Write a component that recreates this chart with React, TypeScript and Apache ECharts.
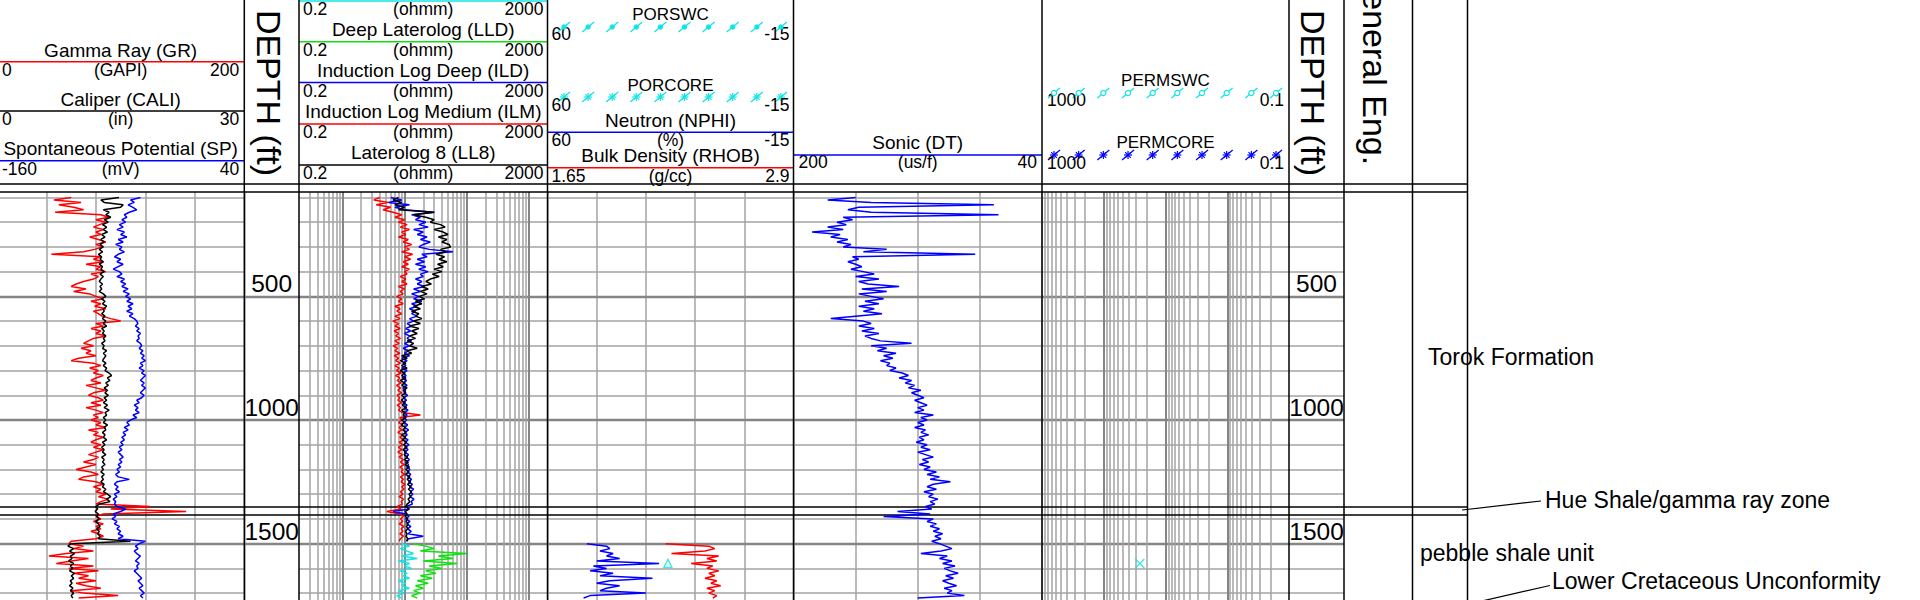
import React, { useEffect, useRef } from "react";
import * as echarts from "echarts";

// ---------------- data ----------------
const DEPTH_MIN = 78;
const DEPTH_MAX = 1740;
const LOG_START = 100; // ft, first sample of the main logs
const LOG_STEP = 10; // ft between samples
const LOWER_START = 1500; // first sample of the lower (new hole) logs

const DEPTH_GRID = [100, 200, 300, 400, 500, 600, 700, 800, 900, 1000, 1100, 1200, 1300, 1400, 1500, 1600, 1700];
const DEPTH_MAJOR = [500, 1000, 1500];
const DEPTH_LABELS = [500, 1000, 1500];
const FORMATION_LINES = [1351, 1384];

const RES_MINOR = [0.3, 0.4, 0.5, 0.6, 0.7, 0.8, 0.9, 2, 3, 4, 5, 6, 7, 8, 9, 20, 30, 40, 50, 60, 70, 80, 90, 200, 300, 400, 500, 600, 700, 800, 900];
const RES_MAJOR = [1, 10, 100, 1000];
const PERM_MINOR = [0.2, 0.3, 0.4, 0.5, 0.6, 0.7, 0.8, 0.9, 2, 3, 4, 5, 6, 7, 8, 9, 20, 30, 40, 50, 60, 70, 80, 90, 200, 300, 400, 500, 600, 700, 800, 900];
const PERM_MAJOR = [1, 10, 100];

// Gamma Ray (GAPI), 100..1720 ft
const GR = [
  60, 46, 68, 50, 62, 70, 47, 84, 90, 80,
  88, 83, 78, 86, 80, 84, 75, 82, 88, 80,
  85, 79, 70, 44, 84, 78, 86, 72, 84, 80,
  88, 76, 82, 78, 70, 64, 60, 72, 62, 75,
  80, 86, 76, 84, 79, 88, 78, 82, 85, 92,
  100, 80, 86, 76, 84, 80, 88, 78, 74, 70,
  78, 68, 76, 72, 80, 66, 60, 78, 84, 75,
  82, 78, 86, 80, 76, 84, 72, 80, 88, 78,
  74, 82, 86, 76, 84, 72, 80, 86, 78, 82,
  76, 84, 80, 88, 74, 82, 78, 86, 80, 76,
  84, 78, 86, 80, 74, 82, 78, 70, 80, 72,
  64, 76, 82, 70, 66, 80, 86, 78, 84, 80,
  88, 82, 90, 84, 80, 124, 92, 153, 86, 80,
  84, 78, 86, 80, 84, 76, 82, 86, 80, 60,
  58, 70, 62, 78, 56, 42, 74, 60, 48, 78,
  58, 82, 62, 74, 66, 80, 64, 72, 84, 60,
  70, 98, 66,
];
// Caliper (in)
const CALI = [
  14.8, 12.6, 13.0, 15.3, 15.0, 12.9, 13.6, 13.2, 13.8, 13.0,
  13.5, 12.8, 13.3, 12.9, 13.4, 12.7, 13.1, 12.6, 13.0, 12.5,
  12.9, 12.4, 12.8, 12.3, 12.7, 12.5, 12.9, 12.4, 12.8, 12.6,
  13.0, 12.5, 12.9, 12.6, 12.4, 12.8, 12.5, 12.7, 12.4, 12.9,
  13.2, 12.7, 13.1, 12.8, 13.3, 12.9, 13.0, 12.7, 13.1, 12.8,
  13.2, 12.9, 13.3, 12.7, 13.0, 12.8, 13.2, 12.9, 13.1, 12.7,
  13.0, 12.8, 13.3, 12.9, 13.2, 13.0, 12.8, 13.2, 12.9, 13.3,
  13.1, 13.6, 13.9, 13.4, 13.7, 13.2, 13.5, 13.0, 13.4, 13.1,
  13.5, 13.0, 13.3, 12.9, 13.4, 13.0, 13.6, 13.1, 13.3, 12.9,
  13.2, 12.9, 13.4, 13.0, 13.2, 12.8, 13.1, 12.9, 13.3, 12.8,
  13.1, 12.7, 13.0, 12.8, 13.2, 12.7, 13.0, 12.8, 13.1, 12.7,
  12.9, 12.6, 13.0, 12.7, 12.9, 12.6, 13.0, 12.8, 13.2, 12.9,
  13.4, 13.8, 13.3, 13.7, 12.4, 12.0, 12.2, 11.9, 12.3, 12.1,
  12.4, 12.0, 12.3, 12.5, 12.1, 12.4, 12.2, 12.5, 12.3, 16.2,
  9.0, 8.6, 9.3, 8.8, 9.4, 8.9, 9.1, 8.7, 9.3, 8.9,
  9.2, 8.8, 9.4, 9.0, 9.3, 8.9, 9.1, 8.8, 9.2, 8.9,
  9.3, 9.0, 9.2,
];
// Spontaneous Potential (mV)
const SP = [
  -44, -52, -49, -54, -50, -47, -53, -57, -55, -59,
  -56, -61, -58, -63, -57, -60, -55, -62, -58, -64,
  -59, -61, -57, -62, -65, -60, -63, -58, -62, -66,
  -61, -59, -63, -57, -60, -56, -59, -54, -58, -53,
  -56, -52, -55, -50, -54, -51, -55, -50, -53, -49,
  -47, -46, -48, -45, -47, -44, -46, -45, -47, -44,
  -43, -45, -42, -44, -41, -43, -40, -44, -42, -45,
  -41, -43, -40, -42, -44, -41, -43, -40, -42, -44,
  -41, -43, -47, -45, -49, -46, -48, -45, -50, -47,
  -52, -55, -53, -57, -54, -58, -56, -59, -57, -60,
  -58, -61, -59, -62, -60, -58, -61, -59, -62, -60,
  -63, -61, -64, -62, -53, -63, -65, -62, -64, -61,
  -65, -63, -66, -64, -65, -63, -56, -60, -66, -64,
  -67, -63, -65, -61, -63, -60, -62, -58, -62, -40,
  -45, -48, -46, -49, -47, -44, -46, -48, -45, -47,
  -46, -49, -47, -45, -43, -46, -44, -42, -45, -43,
  -41, -44, -42,
];
// Laterolog 8 (ohmm), 100..1490 ft
const LL8 = [
  8, 6.5, 9, 7, 10, 8, 30, 14, 22, 30,
  26, 38, 45, 30, 42, 50, 35, 48, 40, 52,
  55, 38, 47, 32, 44, 36, 48, 34, 42, 30,
  40, 28, 36, 26, 22, 27, 19, 24, 18, 23,
  17, 21, 15, 19, 14, 18, 13, 17, 15, 19,
  14, 18, 12, 17, 13, 16, 12, 15, 11, 14,
  12, 16, 11, 13, 9, 11, 8.5, 10.5, 9, 11,
  8.5, 10, 9, 10.5, 8.5, 10, 9, 11, 9.5, 10.5,
  9, 10, 8.8, 10.2, 9.2, 10.8, 9, 10, 9.5, 10.5,
  9, 10, 8.8, 10.2, 9.4, 10.6, 9, 10.4, 9.2, 10.8,
  9.6, 11, 9.4, 10.6, 9.8, 11.2, 10, 11.5, 10.2, 12,
  10.5, 11.8, 10.4, 12.2, 11, 12.5, 11.2, 12.8, 11.5, 13,
  11.8, 12.6, 11.4, 12.2, 11, 10.5, 11.8, 10.2, 11, 10.4,
  11.2, 10.6, 11.4, 10.8, 11.2, 10.4, 11, 10.6, 11.2, 10.8,
];
// Induction Log Medium (ohmm)
const ILM = [
  4, 3.2, 5.5, 3.5, 6, 4.5, 6.5, 9, 7, 10,
  8, 11, 8.5, 12, 9, 10.5, 8, 11.5, 9.5, 13,
  10, 12, 9, 13.5, 10, 12.5, 9.5, 11.5, 9, 12,
  10, 11, 8.5, 10.5, 9, 11, 8, 10, 8.5, 9.5,
  7.5, 9, 8, 9.5, 7, 8.5, 7.5, 9, 7, 8.5,
  6.5, 8, 7, 8.5, 6.8, 8, 7.2, 8.6, 7, 8.2,
  6.6, 7.8, 7, 8.4, 6.8, 8, 7.2, 8.6, 7, 8.2,
  7.4, 8.8, 7.2, 8.4, 7.6, 8.8, 7.4, 8.6, 7.8, 9,
  7.6, 8.4, 7.8, 9, 7.6, 8.6, 8, 9.2, 18, 8.4,
  9, 8, 9.4, 8.2, 9, 7.8, 9.2, 8.4, 9.6, 8.2,
  9.4, 8, 9, 7.8, 9.2, 8.2, 9.6, 8.6, 9.8, 8.4,
  9.4, 8.8, 10, 8.6, 9.6, 8.8, 10.2, 9, 9.8, 8.6,
  9.4, 8.2, 9.6, 8.8, 9.2, 7.5, 8.8, 5.2, 8.4, 9.6,
  8.6, 9.4, 8.2, 9.8, 8.8, 9.4, 8.4, 9.6, 8.6, 8.2,
];
// Induction Log Deep (ohmm)
const ILD = [
  6, 9, 5.5, 12, 7, 10, 30, 13, 18, 15,
  22, 17, 24, 14, 20, 16, 23, 18, 26, 20,
  17, 25, 60, 19, 23, 16, 21, 15, 22, 17,
  24, 18, 20, 15, 19, 16, 21, 14, 18, 13,
  17, 14, 19, 13, 16, 12, 15, 13, 16, 12,
  14, 11, 13, 10.5, 12.5, 10, 12, 11, 13, 10,
  12, 9.5, 11.5, 10, 12, 9, 11, 9.5, 10.5, 9,
  11, 9.4, 10.6, 9.2, 10.8, 9.6, 11, 9.4, 10.4, 9.8,
  11.2, 9.6, 10.8, 9.4, 11, 9.8, 11.4, 10, 11, 9.6,
  10.8, 9.8, 11.2, 10, 11.6, 10.2, 11, 9.8, 11.4, 10.4,
  11.8, 10.2, 11.4, 10, 11.6, 10.6, 12, 10.4, 11.6, 10.8,
  12.2, 11, 12.6, 11.2, 13, 11.6, 13.4, 12, 14, 12.4,
  13.6, 12.2, 14.2, 12.8, 13.4, 10.5, 12, 6.5, 10.6, 11.8,
  10.4, 12.2, 10.8, 12.6, 11.2, 12.8, 11.4, 20, 11.6, 10.8,
];
// Deep Laterolog (ohmm), 1500..1720 ft
const LLD = [14, 22, 30, 18, 100, 35, 60, 20, 70, 25, 40, 22, 32, 18, 28, 16, 24, 15, 20, 14, 18, 13, 16];
// shallow resistivity (cyan curve, title above the picture), 1500..1720 ft
const RSHAL = [9, 12, 8.5, 11, 14, 9, 16, 8, 12, 10, 13, 8.5, 11, 9.5, 12, 8, 10.5, 9, 12, 8, 10, 7.5, 9];
// Sonic (us/f), 100..1720 ft
const DT = [
  160, 178, 150, 71, 158, 165, 150, 68, 168, 162,
  172, 166, 178, 168, 188, 170, 176, 165, 172, 163,
  168, 140, 155, 83, 162, 158, 165, 160, 156, 163,
  155, 148, 160, 145, 158, 152, 132, 156, 140, 158,
  150, 142, 154, 145, 158, 148, 155, 143, 160, 176,
  155, 150, 158, 148, 156, 145, 154, 150, 144, 124,
  150, 140, 146, 134, 142, 136, 144, 138, 140, 134,
  138, 130, 126, 132, 124, 128, 122, 126, 118, 124,
  120, 116, 122, 118, 114, 120, 116, 122, 110, 118,
  114, 120, 116, 122, 115, 118, 113, 119, 116, 121,
  114, 118, 112, 120, 115, 110, 117, 113, 119, 112,
  116, 108, 114, 106, 112, 99, 110, 114, 108, 116,
  110, 113, 107, 112, 109, 115, 111, 133, 112, 142,
  110, 114, 108, 112, 106, 110, 104, 109, 105, 111,
  106, 102, 98, 105, 118, 101, 106, 98, 104, 96,
  103, 99, 94, 102, 97, 104, 100, 95, 103, 98,
  101, 90, 120,
];
// Neutron (%), Bulk Density (g/cc), 1500..1720 ft
const NPHI = [48, 42, 41, 44, 40, 42, 38, 45, 26, 46, 42, 47, 40, 44, 28, 41, 45, 38, 42, 44, 30, 47, 49];
const RHOB = [2.25, 2.47, 2.5, 2.45, 2.28, 2.52, 2.46, 2.51, 2.38, 2.49, 2.46, 2.52, 2.47, 2.5, 2.45, 2.51, 2.48, 2.53, 2.46, 2.5, 2.47, 2.51, 2.49];
// core / sidewall samples: [value, depth]
const PORSWC = [[23.3, 1580]];
const PERMSWC = [[26, 1580]];

// ---------------- layout ----------------
const FONT = '"Liberation Sans", Arial, Helvetica, sans-serif';
const TOP = 192;
const PX_PER_FT = 0.2473;
const GRID_H = (DEPTH_MAX - DEPTH_MIN) * PX_PER_FT;
const T1 = { l: -3, r: 244.3 };
const D1 = { l: 244.3, r: 299 };
const T2 = { l: 299, r: 547.5 };
const T3 = { l: 547.5, r: 793.5 };
const T4 = { l: 793.5, r: 1042 };
const T5 = { l: 1042, r: 1289 };
const D2 = { l: 1289, r: 1344 };
const GE = { l: 1344, r: 1412.5 };
const LC = { l: 1412.5, r: 1467.5 };

const RED = "#ff0000";
const BLUE = "#0000ff";
const GREEN = "#10e010";
const CYAN = "#12e4e4";
const GRID_C = "#a3a3a3";
const GRID_MAJOR_C = "#858585";

const toPts = (vals: number[], start: number, step: number) => vals.map((v, i) => [v, start + i * step]);

const gridOf = (t: { l: number; r: number }) => ({
  left: t.l,
  top: TOP,
  width: t.r - t.l,
  height: GRID_H,
  containLabel: false,
  outerBoundsMode: "none",
});

const depthAxis = (gi: number, labelMargin: number | null = null) => ({
  gridIndex: gi,
  type: "value",
  inverse: true,
  min: DEPTH_MIN,
  max: DEPTH_MAX,
  show: labelMargin != null,
  position: "right",
  axisLine: { show: false },
  axisTick: { show: false },
  splitLine: { show: false },
  axisLabel:
    labelMargin != null
      ? {
          show: true,
          inside: true,
          customValues: DEPTH_LABELS,
          formatter: (v: number) => String(v),
          fontSize: 24.5,
          color: "#000",
          fontFamily: FONT,
          margin: labelMargin,
          align: "center",
          verticalAlign: "bottom",
        }
      : { show: false },
});

const linX = (gi: number, min: number, max: number, inverse = false, interval?: number) => ({
  gridIndex: gi,
  type: "value",
  min,
  max,
  inverse,
  show: interval != null,
  interval,
  axisLine: { show: false },
  axisTick: { show: false },
  axisLabel: { show: false },
  splitLine: { show: interval != null, lineStyle: { color: GRID_C, width: 1.5 } },
});

const logX = (gi: number, min: number, max: number, inverse = false) => ({
  gridIndex: gi,
  type: "log",
  logBase: 10,
  min,
  max,
  inverse,
  show: false,
});

const MINOR_STYLE = { color: GRID_C, width: 1.5, type: "solid" };
const MAJOR_STYLE = { color: GRID_MAJOR_C, width: 2.4, type: "solid" };

const markLineBase = (data: any[]) => ({
  silent: true,
  symbol: ["none", "none"],
  z: 1,
  animation: false,
  label: { show: false },
  emphasis: { disabled: true },
  lineStyle: { type: "solid" },
  data,
});

const hLines = (gi: number, majorOnly = false) => ({
  type: "line",
  xAxisIndex: gi,
  yAxisIndex: gi,
  data: [],
  silent: true,
  z: 1,
  markLine: markLineBase(
    DEPTH_GRID.filter((d) => !majorOnly || DEPTH_MAJOR.includes(d)).map((d) => ({
      yAxis: d,
      lineStyle: DEPTH_MAJOR.includes(d) ? MAJOR_STYLE : MINOR_STYLE,
    }))
  ),
});

const vLogLines = (gi: number, minor: number[], major: number[]) => ({
  type: "line",
  xAxisIndex: gi,
  yAxisIndex: gi,
  data: [],
  silent: true,
  z: 1,
  markLine: markLineBase([
    ...minor.map((v) => ({ xAxis: v, lineStyle: MINOR_STYLE })),
    ...major.map((v) => ({ xAxis: v, lineStyle: { ...MAJOR_STYLE, width: 2 } })),
  ]),
});

const curve = (name: string, gi: number, data: number[][], color: string, width = 1.5) => ({
  name,
  type: "line",
  xAxisIndex: gi,
  yAxisIndex: gi,
  data,
  showSymbol: false,
  symbol: "none",
  silent: true,
  z: 3,
  lineStyle: { color, width },
  itemStyle: { color },
});

// ---------------- header graphics ----------------
const txt = (text: string, x: number, y: number, size: number, align = "center", extra: any = {}) => ({
  type: "text",
  x,
  y,
  z: 50,
  silent: true,
  ...extra,
  style: {
    text,
    x: 0,
    y: 0,
    fill: "#000",
    fontSize: size,
    fontFamily: FONT,
    textAlign: align,
    align,
    textVerticalAlign: "middle",
    verticalAlign: "middle",
  },
});

const ln = (x1: number, y1: number, x2: number, y2: number, stroke = "#000", lineWidth = 1.5) => ({
  type: "line",
  z: 50,
  silent: true,
  shape: { x1, y1, x2, y2 },
  style: { stroke, lineWidth },
});

const scaleRow = (t: { l: number; r: number }, y: number, a: string, unit: string, b: string, pad = 4) => [
  txt(a, t.l + pad, y, 17.5, "left"),
  txt(unit, (t.l + t.r) / 2, y, 17.5, "center"),
  txt(b, t.r - pad, y, 17.5, "right"),
];

const legendRow = (kind: string, x0: number, step: number, cy: number, color: string) => {
  const els: any[] = [];
  for (let i = 0; i < 10; i++) {
    const cx = x0 + i * step;
    els.push(ln(cx - 6, cy + 5, cx + 6, cy - 5, color, 1.3));
    if (kind === "dot") els.push({ type: "circle", z: 51, shape: { cx, cy, r: 2.7 }, style: { fill: color } });
    if (kind === "ring")
      els.push({ type: "circle", z: 51, shape: { cx, cy, r: 2.6 }, style: { fill: "#fff", stroke: color, lineWidth: 1.2 } });
    if (kind === "star") {
      [0, 45, 90, 135].forEach((a) => {
        const r = (a * Math.PI) / 180;
        els.push(ln(cx - 4 * Math.cos(r), cy - 4 * Math.sin(r), cx + 4 * Math.cos(r), cy + 4 * Math.sin(r), color, 1.2));
      });
    }
  }
  return els;
};

function buildGraphic() {
  const g: any[] = [];
  // track 1 header
  const c1 = (T1.l + T1.r) / 2;
  g.push(txt("Gamma Ray (GR)", c1, 50, 19));
  g.push(ln(T1.l, 61.7, T1.r, 61.7, RED));
  g.push(...scaleRow(T1, 69.5, "0", "(GAPI)", "200", 5));
  g.push(txt("Caliper (CALI)", c1, 99, 19));
  g.push(ln(T1.l, 111, T1.r, 111, "#000"));
  g.push(...scaleRow(T1, 118.5, "0", "(in)", "30", 5));
  g.push(txt("Spontaneous Potential (SP)", c1, 148.5, 19));
  g.push(ln(T1.l, 160.7, T1.r, 160.7, BLUE));
  g.push(...scaleRow(T1, 168.5, "-160", "(mV)", "40", 5));

  // resistivity header
  const c2 = (T2.l + T2.r) / 2;
  g.push(ln(T2.l, 1, T2.r, 1, CYAN));
  g.push(...scaleRow(T2, 9, "0.2", "(ohmm)", "2000"));
  g.push(txt("Deep Laterolog (LLD)", c2, 29, 19));
  g.push(ln(T2.l, 41.7, T2.r, 41.7, GREEN));
  g.push(...scaleRow(T2, 49.5, "0.2", "(ohmm)", "2000"));
  g.push(txt("Induction Log Deep (ILD)", c2, 70.3, 19));
  g.push(ln(T2.l, 82.5, T2.r, 82.5, BLUE));
  g.push(...scaleRow(T2, 91, "0.2", "(ohmm)", "2000"));
  g.push(txt("Induction Log Medium (ILM)", c2, 111.3, 19));
  g.push(ln(T2.l, 124, T2.r, 124, RED));
  g.push(...scaleRow(T2, 132, "0.2", "(ohmm)", "2000"));
  g.push(txt("Laterolog 8 (LL8)", c2, 152.5, 19));
  g.push(ln(T2.l, 165, T2.r, 165, "#000"));
  g.push(...scaleRow(T2, 173, "0.2", "(ohmm)", "2000"));

  // porosity header
  const c3 = (T3.l + T3.r) / 2;
  g.push(txt("PORSWC", c3, 14, 17));
  g.push(...legendRow("dot", T3.l + 16.5, 24.1, 27, CYAN));
  g.push(txt("60", T3.l + 4, 33.5, 17.5, "left"));
  g.push(txt("-15", T3.r - 4, 33.5, 17.5, "right"));
  g.push(txt("PORCORE", c3, 85, 17));
  g.push(...legendRow("star", T3.l + 16.5, 24.1, 97, CYAN));
  g.push(txt("60", T3.l + 4, 105, 17.5, "left"));
  g.push(txt("-15", T3.r - 4, 105, 17.5, "right"));
  g.push(txt("Neutron (NPHI)", c3, 120, 19));
  g.push(ln(T3.l, 132.3, T3.r, 132.3, BLUE));
  g.push(...scaleRow(T3, 140, "60", "(%)", "-15"));
  g.push(txt("Bulk Density (RHOB)", c3, 155.5, 19));
  g.push(ln(T3.l, 167.7, T3.r, 167.7, RED));
  g.push(...scaleRow(T3, 175.5, "1.65", "(g/cc)", "2.9"));

  // sonic header
  const c4 = (T4.l + T4.r) / 2;
  g.push(txt("Sonic (DT)", c4, 142.7, 19));
  g.push(ln(T4.l, 155, T4.r, 155, BLUE));
  g.push(...scaleRow(T4, 162, "200", "(us/f)", "40", 5));

  // permeability header
  const c5 = (T5.l + T5.r) / 2;
  g.push(txt("PERMSWC", c5, 80, 17));
  g.push(...legendRow("ring", T5.l + 12, 24.67, 93, CYAN));
  g.push(txt("1000", T5.l + 5, 100, 17.5, "left"));
  g.push(txt("0.1", T5.r - 5, 100, 17.5, "right"));
  g.push(txt("PERMCORE", c5, 142.7, 17));
  g.push(...legendRow("star", T5.l + 12, 24.67, 155, BLUE));
  g.push(txt("1000", T5.l + 5, 162.7, 17.5, "left"));
  g.push(txt("0.1", T5.r - 5, 162.7, 17.5, "right"));

  // rotated column titles
  g.push(txt("DEPTH (ft)", (D1.l + D1.r) / 2 - 3, 93, 34, "center", { rotation: -Math.PI / 2 }));
  g.push(txt("DEPTH (ft)", (D2.l + D2.r) / 2 - 4, 93, 34, "center", { rotation: -Math.PI / 2 }));
  g.push(txt("General Eng.", (GE.l + GE.r) / 2 - 3, 65, 34, "center", { rotation: -Math.PI / 2 }));

  // frame lines
  [T1.r, D1.r, T2.r, T3.r, T4.r, T5.r, D2.r, GE.r, LC.r].forEach((x) => g.push(ln(x, 0, x, 600, "#000", 1.5)));
  g.push(ln(0, 184, LC.r, 184, "#000", 1.5));
  g.push(ln(0, 192, LC.r, 192, "#000", 1.5));

  // formation annotations
  g.push(txt("Torok Formation", 1428, 357, 23, "left"));
  g.push(txt("Hue Shale/gamma ray zone", 1545, 500, 23, "left"));
  g.push(ln(1462, 510, 1541, 501, "#000", 1.2));
  g.push(txt("pebble shale unit", 1420, 553, 23, "left"));
  g.push(txt("Lower Cretaceous Unconformity", 1552, 581, 23, "left"));
  g.push(ln(1482, 601, 1550, 585.5, "#000", 1.2));
  return g;
}

function buildOption() {
  // grid indices
  // 0 T1 GR, 1 T1 CALI, 2 T1 SP, 3 D1, 4 T2 log, 5 T2 lin, 6 T3 NPHI, 7 T3 RHOB,
  // 8 T4 DT, 9 T5 log, 10 T5 lin, 11 D2, 12 frame
  const frame = { l: 0, r: LC.r };
  const grids = [T1, T1, T1, D1, T2, T2, T3, T3, T4, T5, T5, D2, frame].map(gridOf);
  const xAxes = [
    linX(0, 0, 200, false, 40),
    linX(1, 0, 30),
    linX(2, -160, 40),
    linX(3, 0, 1),
    logX(4, 0.2, 2000),
    linX(5, 0, 1),
    linX(6, -15, 60, true, 15),
    linX(7, 1.65, 2.9),
    linX(8, 40, 200, true, 40),
    logX(9, 0.1, 1000, true),
    linX(10, 0, 1),
    linX(11, 0, 1),
    linX(12, 0, 1),
  ];
  const yAxes = grids.map((_, i) =>
    depthAxis(i, i === 3 ? (D1.r - D1.l) / 2 : i === 11 ? (D2.r - D2.l) / 2 : null)
  );

  const series: any[] = [
    hLines(0),
    hLines(3, true),
    hLines(5),
    vLogLines(4, RES_MINOR, RES_MAJOR),
    hLines(6),
    hLines(8),
    hLines(10),
    vLogLines(9, PERM_MINOR, PERM_MAJOR),
    hLines(11),
    {
      type: "line",
      xAxisIndex: 12,
      yAxisIndex: 12,
      data: [],
      silent: true,
      z: 2,
      markLine: {
        ...markLineBase(FORMATION_LINES.map((d) => ({ yAxis: d, lineStyle: { color: "#000", width: 1.5, type: "solid" } }))),
        z: 2,
      },
    },
    curve("GR", 0, toPts(GR, LOG_START, LOG_STEP), RED),
    curve("CALI", 1, toPts(CALI, LOG_START, LOG_STEP), "#000"),
    curve("SP", 2, toPts(SP, LOG_START, LOG_STEP), BLUE),
    curve("RSHAL", 4, toPts(RSHAL, LOWER_START, LOG_STEP), CYAN),
    curve("LLD", 4, toPts(LLD, LOWER_START, LOG_STEP), GREEN),
    curve("ILM", 4, toPts(ILM, LOG_START, LOG_STEP), RED),
    curve("ILD", 4, toPts(ILD, LOG_START, LOG_STEP), BLUE),
    curve("LL8", 4, toPts(LL8, LOG_START, LOG_STEP), "#000"),
    curve("NPHI", 6, toPts(NPHI, LOWER_START, LOG_STEP), BLUE),
    curve("RHOB", 7, toPts(RHOB, LOWER_START, LOG_STEP), RED),
    curve("DT", 8, toPts(DT, LOG_START, LOG_STEP), BLUE),
    {
      name: "PORSWC",
      type: "scatter",
      xAxisIndex: 6,
      yAxisIndex: 6,
      data: PORSWC,
      symbol: "triangle",
      symbolSize: 8,
      silent: true,
      z: 4,
      itemStyle: { color: "rgba(0,0,0,0)", borderColor: CYAN, borderWidth: 1.5 },
    },
    {
      name: "PERMSWC",
      type: "scatter",
      xAxisIndex: 9,
      yAxisIndex: 9,
      data: PERMSWC,
      symbol: "path://M0 0L10 10M10 0L0 10",
      symbolSize: 9,
      silent: true,
      z: 4,
      itemStyle: { color: "rgba(0,0,0,0)", borderColor: CYAN, borderWidth: 1.5 },
    },
  ];

  return {
    animation: false,
    backgroundColor: "#fff",
    grid: grids,
    xAxis: xAxes,
    yAxis: yAxes,
    series,
    graphic: { elements: buildGraphic() },
  };
}

export default function App() {
  const ref = useRef<HTMLDivElement | null>(null);
  useEffect(() => {
    if (!ref.current) return;
    const chart = echarts.init(ref.current, null, { renderer: "svg" });
    chart.setOption(buildOption() as any);
    return () => chart.dispose();
  }, []);
  return (
    <div
      ref={ref}
      style={{ position: "fixed", left: 0, top: 0, width: 1920, height: 600, background: "#fff" }}
    />
  );
}
